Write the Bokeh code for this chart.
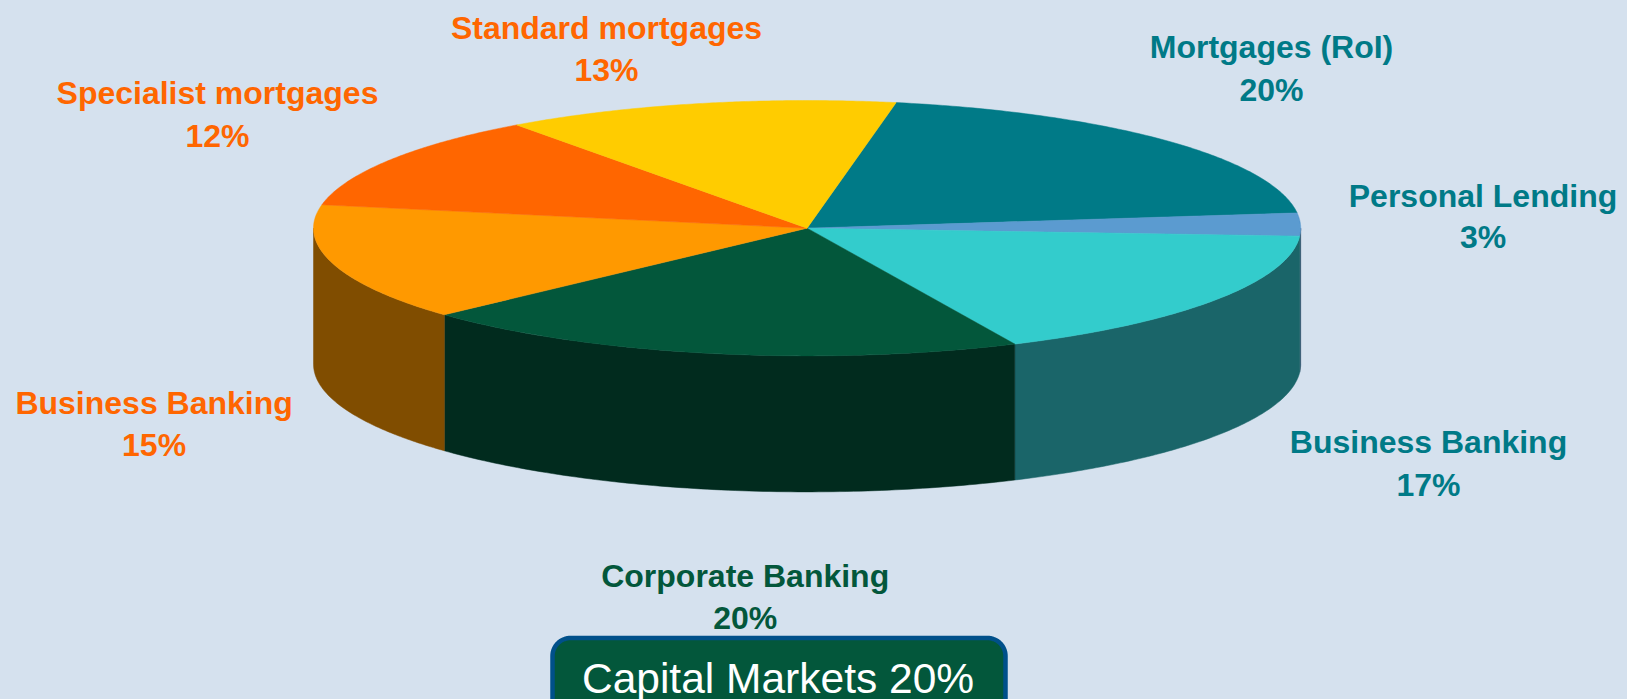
import numpy as np
from bokeh.embed import file_html
from bokeh.models import Range1d
from bokeh.plotting import figure
from bokeh.resources import INLINE
from bokeh.core.properties import value

# ---- data (clockwise from the first slice) ----
slice_names = ["Mortgages (RoI)", "Personal Lending", "Business Banking", "Corporate Banking",
               "Business Banking", "Specialist mortgages", "Standard mortgages"]
slice_values = [20.2, 2.9, 17.1, 20.05, 14.8, 12.05, 12.9]
top_colors = ["#007A87", "#5B9BD0", "#33CCCC", "#03573B", "#FF9900", "#FF6600", "#FFCC00"]
side_colors = ["#003D44", "#2D4E68", "#1A6569", "#012B1E", "#804D00", "#803300", "#806600"]
label_colors = ["#007A87", "#007A87", "#007A87", "#03573B", "#FF6600", "#FF6600", "#FF6600"]
callout_text = "Capital Markets 20%"

# ---- layout (window pixels) ----
W, H = 1627, 699
BG = "#D5E1EE"
CX, CY, RX, RY, DEPTH = 806.6, 227.7, 493.6, 127.7, 136
START_DEG = 10.4
label_x = [1271, 1482.5, 1428, 744.7, 153.6, 217, 606]
label_y1 = [46.5, 195, 441.5, 575.3, 402.5, 92.5, 27.5]
label_y2 = [89.5, 236.9, 484.5, 617, 444.5, 135.5, 69.5]
BOX_L, BOX_R, BOX_T, BOX_B, BOX_RAD = 552, 1005, 637.5, 716, 18


def pt(deg):
    a = np.radians(deg)
    return CX + RX * np.sin(a), CY - RY * np.cos(a)


edges = START_DEG + np.cumsum([0] + slice_values) * 3.6

p = figure(width=W, height=H, output_backend="svg", toolbar_location=None,
           x_range=Range1d(0, W), y_range=Range1d(H, 0), min_border=0,
           background_fill_color=BG, border_fill_color=BG, outline_line_color=None)
p.axis.visible = False
p.grid.visible = False

# side walls: only the part of each slice on the near half of the ellipse
side_xs, side_ys, side_cols = [], [], []
for a0, a1, c in zip(edges[:-1], edges[1:], side_colors):
    lo, hi = max(a0, 90), min(a1, 270)
    if hi <= lo:
        continue
    t = np.linspace(lo, hi, 90)
    x, y = pt(t)
    side_xs.append(np.r_[x, x[::-1]].tolist())
    side_ys.append(np.r_[y, (y + DEPTH)[::-1]].tolist())
    side_cols.append(c)
p.patches(side_xs, side_ys, fill_color=side_cols, line_color=side_cols, line_width=0.5)

# top face
top_xs, top_ys = [], []
for a0, a1 in zip(edges[:-1], edges[1:]):
    x, y = pt(np.linspace(a0, a1, 120))
    top_xs.append(np.r_[CX, x].tolist())
    top_ys.append(np.r_[CY, y].tolist())
p.patches(top_xs, top_ys, fill_color=top_colors, line_color=top_colors, line_width=0.5)

# labels
pct = [f"{v:.0f}%" for v in slice_values]
for ys, txt in ((label_y1, slice_names), (label_y2, pct)):
    p.text(x=label_x, y=ys, text=txt, text_color=label_colors, text_align="center",
           text_baseline="alphabetic", text_font=value("Liberation Sans"),
           text_font_style="bold", text_font_size="32px")

# callout box
arc = np.radians(np.linspace(0, 90, 20))
bx = np.r_[BOX_L + BOX_RAD - BOX_RAD * np.cos(arc), BOX_R - BOX_RAD + BOX_RAD * np.sin(arc),
           BOX_R - BOX_RAD + BOX_RAD * np.cos(arc), BOX_L + BOX_RAD - BOX_RAD * np.sin(arc)]
by = np.r_[BOX_T + BOX_RAD - BOX_RAD * np.sin(arc), BOX_T + BOX_RAD - BOX_RAD * np.cos(arc),
           BOX_B - BOX_RAD + BOX_RAD * np.sin(arc), BOX_B - BOX_RAD + BOX_RAD * np.cos(arc)]
p.patch(bx.tolist(), by.tolist(), fill_color="#03573B", line_color="#00508A", line_width=4.5)
p.text(x=[(BOX_L + BOX_R) / 2 - 1], y=[677.5], text=[callout_text], text_color="#FFFFFF",
       text_align="center", text_baseline="alphabetic", text_font=value("Liberation Sans"),
       text_font_size="42.5px")

html = file_html(p, INLINE)
html = html.replace("<head>", f"<head><style>html,body{{margin:0;padding:0;overflow:hidden;background:{BG}}}</style>", 1)
open("out.html", "w").write(html)
